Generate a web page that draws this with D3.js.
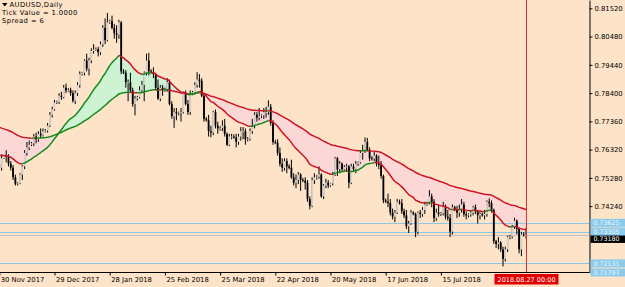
<!DOCTYPE html>
<html>
<head>
<meta charset="utf-8">
<script src="https://cdn.jsdelivr.net/npm/d3@7"></script>
<style>
  body { margin: 0; background: #fde4c8; }
  svg { display: block; }
</style>
</head>
<body>
<svg id="chart" width="625" height="287"></svg>
<script>
// ---- data: AUDUSD daily, 30 Nov 2017 .. 27 Aug 2018 (6 bars a week, Sun..Fri)
const open = [
  0.7580, 0.7565,
  0.7600, 0.7608, 0.7605, 0.7580, 0.7565, 0.7530,
  0.7505, 0.7508, 0.7540, 0.7570, 0.7620, 0.7640,
  0.7650, 0.7655, 0.7680, 0.7670, 0.7690, 0.7685,
  0.7700, 0.7702, 0.7720, 0.7760, 0.7780,
  0.7805, 0.7808, 0.7830, 0.7825, 0.7860,
  0.7850, 0.7852, 0.7840, 0.7812, 0.7840, 0.7870,
  0.7910, 0.7915, 0.7960, 0.7930, 0.7960, 0.7995,
  0.8000, 0.8002, 0.7990, 0.8020, 0.8080, 0.8035,
  0.8100, 0.8105, 0.8080, 0.8060, 0.8055, 0.8100,
  0.7920, 0.7915, 0.7880, 0.7880, 0.7850, 0.7800,
  0.7820, 0.7825, 0.7850, 0.7870, 0.7915, 0.7960,
  0.7920, 0.7918, 0.7910, 0.7860, 0.7820, 0.7860,
  0.7850, 0.7855, 0.7880, 0.7800, 0.7755, 0.7770,
  0.7765, 0.7768, 0.7770, 0.7840, 0.7800, 0.7770,
  0.7840, 0.7843, 0.7870, 0.7890, 0.7885, 0.7830,
  0.7745, 0.7740, 0.7700, 0.7695, 0.7770, 0.7720,
  0.7710, 0.7712, 0.7720, 0.7690, 0.7650, 0.7680,
  0.7680, 0.7676, 0.7660, 0.7680, 0.7700, 0.7700,
  0.7670, 0.7672, 0.7700, 0.7720, 0.7760, 0.7750,
  0.7755, 0.7758, 0.7770, 0.7770, 0.7790, 0.7730,
  0.7660, 0.7658, 0.7620, 0.7580, 0.7565, 0.7590,
  0.7570, 0.7565, 0.7530, 0.7510, 0.7520, 0.7540,
  0.7520, 0.7518, 0.7510, 0.7450, 0.7425, 0.7520,
  0.7530, 0.7532, 0.7540, 0.7460, 0.7500, 0.7510,
  0.7500, 0.7508, 0.7540, 0.7600, 0.7560, 0.7580,
  0.7560, 0.7568, 0.7570, 0.7510, 0.7570, 0.7560,
  0.7580, 0.7585, 0.7620, 0.7630, 0.7660, 0.7630,
  0.7600, 0.7598, 0.7610, 0.7580, 0.7575, 0.7535,
  0.7445, 0.7440, 0.7435, 0.7400, 0.7385, 0.7400,
  0.7440, 0.7435, 0.7405, 0.7390, 0.7350, 0.7360,
  0.7400, 0.7395, 0.7330, 0.7400, 0.7395, 0.7410,
  0.7430, 0.7435, 0.7460, 0.7440, 0.7380, 0.7400,
  0.7395, 0.7398, 0.7420, 0.7385, 0.7380, 0.7330,
  0.7420, 0.7410, 0.7400, 0.7410, 0.7430, 0.7395,
  0.7390, 0.7394, 0.7400, 0.7420, 0.7405, 0.7390,
  0.7395, 0.7390, 0.7395, 0.7440, 0.7435, 0.7410,
  0.7295, 0.7285, 0.7290, 0.7265, 0.7230, 0.7265,
  0.7310, 0.7312, 0.7350, 0.7370, 0.7340, 0.7265,
  0.7320, 0.7318
];
const high = [
  0.7595, 0.7615,
  0.7612, 0.7630, 0.7615, 0.7590, 0.7575, 0.7540,
  0.7512, 0.7545, 0.7575, 0.7630, 0.7660, 0.7665,
  0.7660, 0.7690, 0.7695, 0.7700, 0.7710, 0.7710,
  0.7708, 0.7730, 0.7770, 0.7790, 0.7815,
  0.7812, 0.7840, 0.7845, 0.7870, 0.7875,
  0.7858, 0.7860, 0.7850, 0.7850, 0.7880, 0.7920,
  0.7918, 0.7965, 0.7985, 0.7970, 0.8005, 0.8020,
  0.8008, 0.8010, 0.8030, 0.8090, 0.8115, 0.8135,
  0.8110, 0.8125, 0.8095, 0.8090, 0.8110, 0.8105,
  0.7928, 0.7925, 0.7890, 0.7915, 0.7860, 0.7830,
  0.7830, 0.7865, 0.7885, 0.7920, 0.7985, 0.7988,
  0.7928, 0.7935, 0.7915, 0.7890, 0.7870, 0.7870,
  0.7860, 0.7895, 0.7890, 0.7810, 0.7785, 0.7785,
  0.7772, 0.7785, 0.7845, 0.7850, 0.7815, 0.7850,
  0.7848, 0.7880, 0.7917, 0.7910, 0.7895, 0.7840,
  0.7752, 0.7760, 0.7720, 0.7775, 0.7780, 0.7735,
  0.7718, 0.7740, 0.7745, 0.7695, 0.7690, 0.7690,
  0.7688, 0.7690, 0.7690, 0.7715, 0.7715, 0.7710,
  0.7678, 0.7710, 0.7745, 0.7770, 0.7770, 0.7785,
  0.7762, 0.7785, 0.7790, 0.7813, 0.7800, 0.7740,
  0.7668, 0.7670, 0.7640, 0.7600, 0.7600, 0.7600,
  0.7578, 0.7595, 0.7545, 0.7540, 0.7550, 0.7545,
  0.7528, 0.7530, 0.7520, 0.7460, 0.7530, 0.7545,
  0.7538, 0.7570, 0.7545, 0.7505, 0.7525, 0.7520,
  0.7510, 0.7550, 0.7605, 0.7605, 0.7590, 0.7585,
  0.7575, 0.7580, 0.7575, 0.7580, 0.7580, 0.7590,
  0.7588, 0.7630, 0.7650, 0.7677, 0.7675, 0.7640,
  0.7608, 0.7625, 0.7615, 0.7610, 0.7590, 0.7540,
  0.7452, 0.7470, 0.7450, 0.7415, 0.7410, 0.7450,
  0.7448, 0.7450, 0.7415, 0.7410, 0.7370, 0.7410,
  0.7405, 0.7400, 0.7405, 0.7410, 0.7420, 0.7440,
  0.7440, 0.7483, 0.7470, 0.7450, 0.7415, 0.7430,
  0.7402, 0.7440, 0.7430, 0.7410, 0.7395, 0.7430,
  0.7425, 0.7425, 0.7430, 0.7450, 0.7440, 0.7405,
  0.7398, 0.7410, 0.7425, 0.7430, 0.7410, 0.7405,
  0.7400, 0.7410, 0.7445, 0.7453, 0.7445, 0.7415,
  0.7300, 0.7310, 0.7295, 0.7275, 0.7275, 0.7315,
  0.7318, 0.7355, 0.7381, 0.7375, 0.7345, 0.7330,
  0.7328, 0.7345
];
const low = [
  0.7540, 0.7555,
  0.7598, 0.7585, 0.7570, 0.7555, 0.7520, 0.7500,
  0.7500, 0.7505, 0.7520, 0.7560, 0.7610, 0.7630,
  0.7645, 0.7645, 0.7655, 0.7660, 0.7675, 0.7680,
  0.7695, 0.7695, 0.7715, 0.7750, 0.7775,
  0.7800, 0.7800, 0.7815, 0.7820, 0.7840,
  0.7845, 0.7830, 0.7805, 0.7800, 0.7830, 0.7860,
  0.7905, 0.7905, 0.7920, 0.7905, 0.7950, 0.7985,
  0.7995, 0.7975, 0.7980, 0.8010, 0.8020, 0.8030,
  0.8095, 0.8075, 0.8040, 0.8025, 0.8040, 0.7910,
  0.7910, 0.7860, 0.7810, 0.7840, 0.7790, 0.7758,
  0.7812, 0.7820, 0.7840, 0.7810, 0.7905, 0.7905,
  0.7912, 0.7895, 0.7850, 0.7815, 0.7810, 0.7830,
  0.7845, 0.7845, 0.7795, 0.7745, 0.7712, 0.7740,
  0.7758, 0.7735, 0.7765, 0.7795, 0.7760, 0.7760,
  0.7832, 0.7835, 0.7860, 0.7860, 0.7825, 0.7735,
  0.7735, 0.7680, 0.7677, 0.7685, 0.7710, 0.7690,
  0.7702, 0.7700, 0.7680, 0.7645, 0.7645, 0.7670,
  0.7672, 0.7640, 0.7650, 0.7665, 0.7670, 0.7650,
  0.7662, 0.7665, 0.7690, 0.7710, 0.7735, 0.7740,
  0.7748, 0.7745, 0.7750, 0.7760, 0.7720, 0.7650,
  0.7652, 0.7610, 0.7570, 0.7550, 0.7555, 0.7545,
  0.7560, 0.7525, 0.7500, 0.7490, 0.7505, 0.7480,
  0.7512, 0.7485, 0.7440, 0.7412, 0.7420, 0.7505,
  0.7522, 0.7525, 0.7455, 0.7450, 0.7490, 0.7490,
  0.7495, 0.7500, 0.7535, 0.7535, 0.7545, 0.7550,
  0.7555, 0.7550, 0.7490, 0.7505, 0.7550, 0.7545,
  0.7572, 0.7580, 0.7595, 0.7620, 0.7625, 0.7590,
  0.7592, 0.7590, 0.7570, 0.7560, 0.7525, 0.7435,
  0.7435, 0.7420, 0.7390, 0.7375, 0.7365, 0.7395,
  0.7430, 0.7395, 0.7380, 0.7340, 0.7325, 0.7355,
  0.7390, 0.7310, 0.7320, 0.7380, 0.7385, 0.7395,
  0.7425, 0.7430, 0.7420, 0.7365, 0.7370, 0.7385,
  0.7388, 0.7390, 0.7375, 0.7370, 0.7310, 0.7320,
  0.7405, 0.7380, 0.7385, 0.7400, 0.7385, 0.7375,
  0.7382, 0.7385, 0.7390, 0.7395, 0.7360, 0.7375,
  0.7385, 0.7375, 0.7385, 0.7420, 0.7400, 0.7285,
  0.7270, 0.7265, 0.7255, 0.7202, 0.7220, 0.7255,
  0.7302, 0.7305, 0.7340, 0.7320, 0.7250, 0.7240,
  0.7312, 0.7305
];
const close = [
  0.7565, 0.7600,
  0.7608, 0.7605, 0.7580, 0.7565, 0.7530, 0.7505,
  0.7508, 0.7540, 0.7570, 0.7620, 0.7640, 0.7650,
  0.7655, 0.7680, 0.7670, 0.7690, 0.7685, 0.7700,
  0.7702, 0.7720, 0.7760, 0.7780, 0.7805,
  0.7808, 0.7830, 0.7825, 0.7860, 0.7850,
  0.7852, 0.7840, 0.7812, 0.7840, 0.7870, 0.7910,
  0.7915, 0.7960, 0.7930, 0.7960, 0.7995, 0.8000,
  0.8002, 0.7990, 0.8020, 0.8080, 0.8035, 0.8100,
  0.8105, 0.8080, 0.8060, 0.8055, 0.8100, 0.7920,
  0.7915, 0.7880, 0.7880, 0.7850, 0.7800, 0.7820,
  0.7825, 0.7850, 0.7870, 0.7915, 0.7960, 0.7920,
  0.7918, 0.7910, 0.7860, 0.7820, 0.7860, 0.7850,
  0.7855, 0.7880, 0.7800, 0.7755, 0.7770, 0.7765,
  0.7768, 0.7770, 0.7840, 0.7800, 0.7770, 0.7840,
  0.7843, 0.7870, 0.7890, 0.7885, 0.7830, 0.7745,
  0.7740, 0.7700, 0.7695, 0.7770, 0.7720, 0.7710,
  0.7712, 0.7720, 0.7690, 0.7650, 0.7680, 0.7680,
  0.7676, 0.7660, 0.7680, 0.7700, 0.7700, 0.7670,
  0.7672, 0.7700, 0.7720, 0.7760, 0.7750, 0.7755,
  0.7758, 0.7770, 0.7770, 0.7790, 0.7730, 0.7660,
  0.7658, 0.7620, 0.7580, 0.7565, 0.7590, 0.7570,
  0.7565, 0.7530, 0.7510, 0.7520, 0.7540, 0.7520,
  0.7518, 0.7510, 0.7450, 0.7425, 0.7520, 0.7530,
  0.7532, 0.7540, 0.7460, 0.7500, 0.7510, 0.7500,
  0.7508, 0.7540, 0.7600, 0.7560, 0.7580, 0.7560,
  0.7568, 0.7570, 0.7510, 0.7570, 0.7560, 0.7580,
  0.7585, 0.7620, 0.7630, 0.7660, 0.7630, 0.7600,
  0.7598, 0.7610, 0.7580, 0.7575, 0.7535, 0.7445,
  0.7440, 0.7435, 0.7400, 0.7385, 0.7400, 0.7440,
  0.7435, 0.7405, 0.7390, 0.7350, 0.7360, 0.7400,
  0.7395, 0.7330, 0.7400, 0.7395, 0.7410, 0.7430,
  0.7435, 0.7460, 0.7440, 0.7380, 0.7400, 0.7395,
  0.7398, 0.7420, 0.7385, 0.7380, 0.7330, 0.7420,
  0.7410, 0.7400, 0.7410, 0.7430, 0.7395, 0.7390,
  0.7394, 0.7400, 0.7420, 0.7405, 0.7390, 0.7395,
  0.7390, 0.7395, 0.7440, 0.7435, 0.7410, 0.7295,
  0.7285, 0.7290, 0.7265, 0.7230, 0.7265, 0.7310,
  0.7312, 0.7350, 0.7370, 0.7340, 0.7265, 0.7320,
  0.7318, 0.7318
];

const fastPeriod = 24, fastStart = 0.7611;
const slowPeriod = 75, slowStart = 0.7714;

const priceTicks = [0.81520, 0.80480, 0.79440, 0.78400, 0.77360, 0.76320, 0.75280, 0.74240];
const levels = [0.73625, 0.73305, 0.72131, 0.71797];
const bidPrice = 0.73180;
const priceRange = [0.71797, 0.81826];
const tickDates = ["2017-11-30", "2017-12-29", "2018-01-28", "2018-02-25", "2018-03-25",
                   "2018-04-22", "2018-05-20", "2018-06-17", "2018-07-15"];
const holidays = ["2017-12-25", "2018-01-01"];
const infoLines = ["AUDUSD,Daily", "Tick Value = 1.0000", "Spread = 6"];

// ---- layout
const W = 625, H = 287;
const plotRight = 589.5, plotBottom = 272.5;
const font = "DejaVu Sans";
const fs = 6.8;

const svg = d3.select("#chart");
svg.append("rect").attr("width", W).attr("height", H).attr("fill", "#fde4c8");

// calendar of bars
const dayKey = d3.timeFormat("%Y-%m-%d");
const dates = [];
for (let d = new Date(2017, 10, 30); dates.length < close.length; d = d3.timeDay.offset(d, 1)) {
    if (d.getDay() === 6 || holidays.includes(dayKey(d))) continue;
    dates.push(d);
}
const last = dates.length - 1;

const x = d3.scaleLinear().domain([0, last]).range([-0.7, 526]);
const y = d3.scaleLinear().domain(priceRange).range([plotBottom, 0]);

// EMA
function ema(values, period, start) {
    const k = 2 / (period + 1);
    const out = [start];
    for (let i = 1; i < values.length; i++) out.push(out[i - 1] + k * (values[i] - out[i - 1]));
    return out;
}
const fast = ema(close, fastPeriod, fastStart);
const slow = ema(close, slowPeriod, slowStart);

const plot = svg.append("g");
svg.append("clipPath").attr("id", "clip")
    .append("rect").attr("x", 0).attr("y", 0).attr("width", plotRight).attr("height", plotBottom);
plot.attr("clip-path", "url(#clip)");

// fills between the averages
const idx = d3.range(dates.length);
plot.append("path")
    .datum(idx)
    .attr("fill", "#cdf3d3")
    .attr("d", d3.area().x(i => x(i)).y0(i => y(slow[i])).y1(i => y(Math.max(fast[i], slow[i]))));
plot.append("path")
    .datum(idx)
    .attr("fill", "#fbd8d6")
    .attr("d", d3.area().x(i => x(i)).y0(i => y(slow[i])).y1(i => y(Math.min(fast[i], slow[i]))));

// level lines
plot.selectAll(".level")
    .data(levels)
    .enter().append("line")
    .attr("x1", 0).attr("x2", plotRight)
    .attr("y1", d => Math.round(y(d)) + 0.5).attr("y2", d => Math.round(y(d)) + 0.5)
    .attr("stroke", "#8cc8e6").attr("stroke-width", 1);
plot.append("line")
    .attr("x1", 0).attr("x2", plotRight)
    .attr("y1", Math.round(y(bidPrice)) + 0.5).attr("y2", Math.round(y(bidPrice)) + 0.5)
    .attr("stroke", "#c0c0c0").attr("stroke-width", 1);

// candles
const candles = plot.selectAll(".candle")
    .data(idx)
    .enter().append("g");
candles.append("rect")
    .attr("x", i => x(i) - 0.5)
    .attr("width", 1)
    .attr("y", i => y(high[i]))
    .attr("height", i => Math.max(0.8, y(low[i]) - y(high[i])))
    .attr("fill", "#000");
candles.append("rect")
    .attr("x", i => x(i) - 0.9)
    .attr("width", 1.8)
    .attr("y", i => y(Math.max(open[i], close[i])))
    .attr("height", i => Math.max(0.8, Math.abs(y(open[i]) - y(close[i]))))
    .attr("fill", i => close[i] >= open[i] ? "#d9cfcc" : "#000");

// averages, coloured by direction
function drawMA(values) {
    let runs = [];
    for (let i = 1; i < values.length; i++) {
        const up = values[i] >= values[i - 1];
        const cur = runs[runs.length - 1];
        if (cur && cur.up === up) cur.pts.push(i);
        else runs.push({up, pts: [i - 1, i]});
    }
    plot.selectAll(null)
        .data(runs)
        .enter().append("path")
        .attr("fill", "none")
        .attr("stroke", r => r.up ? "#178a1c" : "#cc1426")
        .attr("stroke-width", 1.5)
        .attr("stroke-linejoin", "round")
        .attr("d", r => d3.line().x(i => x(i)).y(i => y(values[i]))(r.pts));
}
drawMA(slow);
drawMA(fast);

// time line
svg.append("line")
    .attr("x1", Math.round(x(last)) + 0.5).attr("x2", Math.round(x(last)) + 0.5)
    .attr("y1", 0).attr("y2", plotBottom)
    .attr("stroke", "#e03030").attr("stroke-width", 1);

// right price axis
const yAxis = svg.append("g")
    .attr("transform", `translate(${plotRight},0)`)
    .call(d3.axisRight(y).tickValues(priceTicks).tickFormat(d3.format(".5f"))
        .tickSize(3).tickSizeOuter(0).tickPadding(2));
yAxis.attr("font-family", font).attr("font-size", fs);
yAxis.selectAll("text").attr("fill", "#000");
yAxis.selectAll("line, path").attr("stroke", "#000");

// bottom time axis
const tickIdx = tickDates.map(s => dates.findIndex(d => dayKey(d) === s));
const xAxis = svg.append("g")
    .attr("transform", `translate(0,${plotBottom})`)
    .call(d3.axisBottom(x).tickValues(tickIdx).tickFormat(i => d3.timeFormat("%d %b %Y")(dates[i]))
        .tickSize(3).tickSizeOuter(0).tickPadding(2));
xAxis.select(".domain").remove();
xAxis.attr("font-family", font).attr("font-size", fs);
xAxis.selectAll("line").attr("stroke", "#000");
xAxis.selectAll("text").attr("text-anchor", "start").attr("x", 1).attr("fill", "#000");
svg.append("line")
    .attr("x1", 0).attr("x2", plotRight).attr("y1", plotBottom).attr("y2", plotBottom)
    .attr("stroke", "#000");

// price labels on the axis (the bid box sits just under the level boxes)
function priceLabel(v, cy, bg, fg) {
    const g = svg.append("g").attr("transform", `translate(${plotRight + 1},${cy})`);
    g.append("rect").attr("x", 0).attr("y", -4).attr("width", 35).attr("height", 8).attr("fill", bg);
    g.append("text").attr("x", 3).attr("dy", "0.35em")
        .attr("font-family", font).attr("font-size", 6.3).attr("fill", fg)
        .text(d3.format(".5f")(v));
}
priceLabel(bidPrice, y(bidPrice) + 4, "#000", "#fff");
levels.forEach(v => priceLabel(v, y(v), "#8ccbec", "#e8f6ff"));

// time label
const tl = svg.append("g").attr("transform", `translate(${Math.round(x(last)) + 0.5},${plotBottom + 1.5})`);
tl.append("rect").attr("x", -32).attr("y", 0).attr("width", 64).attr("height", 10.5).attr("fill", "#e00000");
tl.append("text").attr("y", 5.5).attr("dy", "0.35em").attr("text-anchor", "middle")
    .attr("font-family", font).attr("font-size", 6.5).attr("fill", "#fff")
    .text(d3.timeFormat("%Y.%m.%d %H:%M")(dates[last]));

// info text
svg.append("path").attr("d", "M2,3 L7.5,3 L4.75,6.5 Z").attr("fill", "#000");
svg.selectAll(".info")
    .data(infoLines)
    .enter().append("text")
    .attr("x", (d, i) => i === 0 ? 9.5 : 2)
    .attr("y", (d, i) => 7.3 + i * 8)
    .attr("font-family", font).attr("font-size", 6.8).attr("letter-spacing", 0.4).attr("fill", "#000")
    .text(d => d);
</script>
</body>
</html>
